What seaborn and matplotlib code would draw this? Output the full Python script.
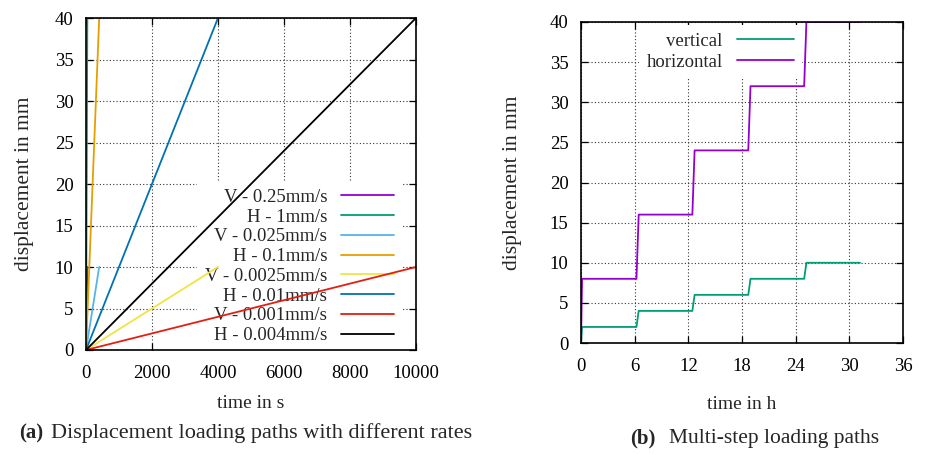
import matplotlib
matplotlib.use("Agg")
import matplotlib.pyplot as plt
import seaborn as sns
import pandas as pd

# ---------------- data ----------------
# (a) constant-rate displacement paths
rate_labels = ["V - 0.25mm/s", "H - 1mm/s", "V - 0.025mm/s", "H - 0.1mm/s",
               "V - 0.0025mm/s", "H - 0.01mm/s", "V - 0.001mm/s", "H - 0.004mm/s"]
end_time_s = [40, 40, 400, 400, 4000, 4000, 10000, 10000]
end_disp_mm = [10, 40, 10, 40, 10, 40, 10, 40]
rate_colors = ["#9400d3", "#009e73", "#56b4e9", "#e69f00",
               "#f0e442", "#0072b2", "#e51e10", "#000000"]

# (b) multi-step paths
step_time_h = [0, 0.12, 6.2, 6.45, 12.45, 12.7, 18.7, 18.95, 24.95, 25.2, 31.2]
vertical_mm = [0, 2, 2, 4, 4, 6, 6, 8, 8, 10, 10]
horizontal_mm = [0, 8, 8, 16, 16, 24, 24, 32, 32, 40, 40]
step_colors = {"vertical": "#009e73", "horizontal": "#9400d3"}

left_xticks = [0, 2000, 4000, 6000, 8000, 10000]
right_xticks = [0, 6, 12, 18, 24, 30, 36]
yticks = [0, 5, 10, 15, 20, 25, 30, 35, 40]

# ---------------- style ----------------
sns.set_style("ticks")
plt.rcParams["font.family"] = ["Liberation Serif", "DejaVu Serif"]
FS = 13.5

fig = plt.figure(figsize=(9.28, 4.55), dpi=100)
axL = fig.add_axes([86 / 928, 1 - 350 / 455, 330 / 928, 332 / 455])
axR = fig.add_axes([581 / 928, 1 - 343 / 455, 322 / 928, 321 / 455])


def style_axes(ax):
    ax.set_axisbelow(True)
    ax.grid(True, linestyle=(0, (1, 2)), color="#333333", linewidth=0.8)
    ax.tick_params(direction="in", length=5, width=0.9, top=True, right=True,
                   labelsize=FS, colors="black")
    ax.tick_params(axis="x", pad=11)
    ax.tick_params(axis="y", pad=9)
    for s in ax.spines.values():
        s.set_linewidth(1.2)
        s.set_color("black")
        s.set_zorder(5)


# ---------------- (a) ----------------
for lab, te, de, c in zip(rate_labels, end_time_s, end_disp_mm, rate_colors):
    df = pd.DataFrame({"t": [0, te], "d": [0, de]})
    sns.lineplot(data=df, x="t", y="d", ax=axL, color=c, label=lab,
                 linewidth=1.3, sort=False, estimator=None, zorder=3)

axL.set_xlim(0, 10000)
axL.set_ylim(0, 40)
axL.set_xticks(left_xticks)
axL.set_yticks(yticks)
style_axes(axL)
axL.set_xlabel("time in s", fontsize=14, labelpad=9)
axL.set_ylabel("displacement in mm", fontsize=15.5, labelpad=15)
legL = axL.legend(loc="upper right", bbox_to_anchor=(0.955, 0.508),
                  borderaxespad=0, markerfirst=False, frameon=True,
                  facecolor="white", edgecolor="none", framealpha=1,
                  fancybox=False, fontsize=FS, handlelength=2.8,
                  handletextpad=0.75, labelspacing=0.14, borderpad=0.4)
legL.set_zorder(2)

# ---------------- (b) ----------------
for name, vals in [("vertical", vertical_mm), ("horizontal", horizontal_mm)]:
    df = pd.DataFrame({"t": step_time_h, "d": vals})
    sns.lineplot(data=df, x="t", y="d", ax=axR, color=step_colors[name],
                 label=name, linewidth=1.3, sort=False, estimator=None,
                 zorder=3)

axR.set_xlim(0, 36)
axR.set_ylim(0, 40)
axR.set_xticks(right_xticks)
axR.set_yticks(yticks)
style_axes(axR)
axR.set_xlabel("time in h", fontsize=14, labelpad=15)
axR.set_ylabel("displacement in mm", fontsize=15.5, labelpad=20)
legR = axR.legend(loc="upper right", bbox_to_anchor=(0.685, 0.99),
                  borderaxespad=0, markerfirst=False, frameon=True,
                  facecolor="white", edgecolor="none", framealpha=1,
                  fancybox=False, fontsize=FS, handlelength=3.05,
                  handletextpad=0.75, labelspacing=0.2, borderpad=0.4)
legR.set_zorder(2)

# ---------------- captions ----------------
fig.text(19 / 928, 1 - 433 / 455, "(a)", fontsize=15, fontweight="bold",
         va="center", ha="left")
fig.text(51 / 928, 1 - 433 / 455, "Displacement loading paths with different rates",
         fontsize=16, va="center", ha="left")
fig.text(630 / 928, 1 - 438 / 455, "(b)", fontsize=15, fontweight="bold",
         va="center", ha="left")
fig.text(669 / 928, 1 - 438 / 455, "Multi-step loading paths",
         fontsize=15.5, va="center", ha="left")

fig.savefig("out.png", dpi=100, facecolor="white")
